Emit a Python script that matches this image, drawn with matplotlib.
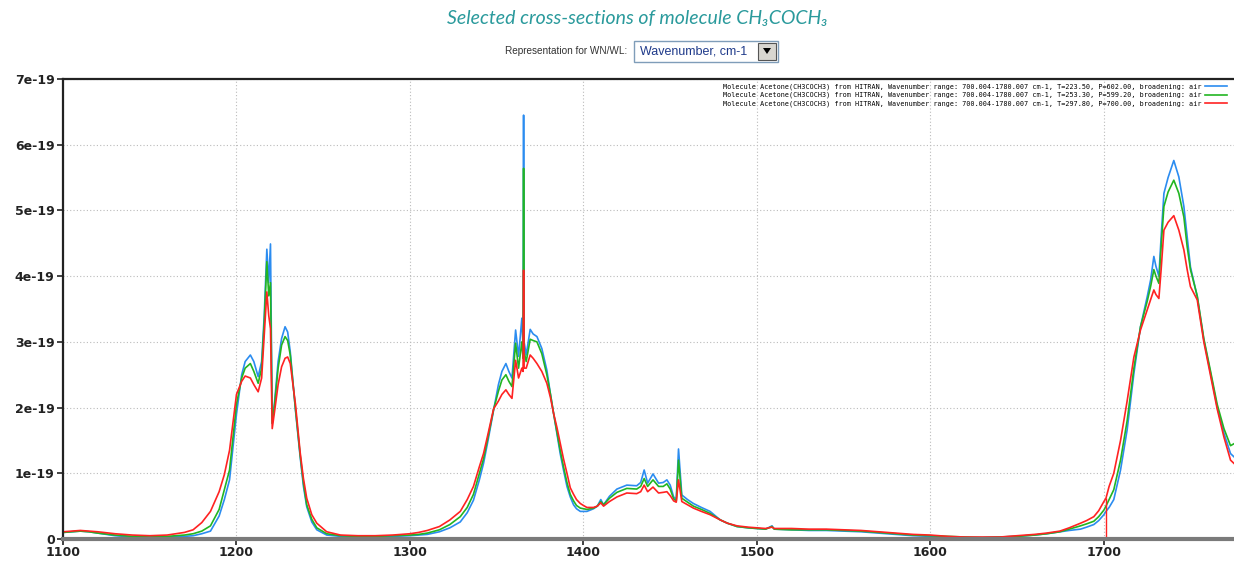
import matplotlib
matplotlib.use("Agg")
import matplotlib.pyplot as plt
from matplotlib.patches import Rectangle, Polygon

# wavenumber grid (cm-1) and cross-sections in units of 1e-19 cm2/molecule
wn = [1100, 1105, 1110, 1115, 1120, 1130, 1140, 1150, 1160, 1170, 1175, 1180, 1185,
      1190, 1193, 1196, 1200, 1203, 1205, 1208, 1210, 1212.5, 1214.5, 1216, 1217.5,
      1218.6, 1219.6, 1220.6, 1222, 1224, 1226, 1228, 1229.5, 1231, 1234, 1236.7,
      1238.6, 1240.5, 1243.4, 1246.3, 1252, 1260, 1270, 1280, 1290, 1300, 1305, 1310,
      1317, 1323, 1329, 1333, 1336.6, 1340, 1342.4, 1345, 1348.2, 1351, 1353, 1355.3,
      1357, 1358.8, 1360.9, 1362.6, 1364.5, 1365.2, 1365.5, 1365.8, 1367, 1369.3, 1371,
      1373.2, 1376, 1378.9, 1381, 1382.8, 1384.7, 1386.6, 1388.5, 1390.5, 1392.4, 1394.3,
      1396, 1398.2, 1400, 1402, 1405.8, 1408, 1410, 1411.6, 1415, 1419.3, 1425, 1430.7,
      1433, 1435, 1437, 1440.1, 1443.3, 1446, 1448.1, 1450, 1452, 1453.5, 1454.8, 1456.7,
      1460, 1463.4, 1468, 1473, 1478.9, 1483, 1488.5, 1495, 1500, 1505, 1508.7, 1510,
      1520, 1530, 1540, 1550, 1560, 1570, 1580, 1590, 1600, 1610, 1620, 1630, 1640, 1650,
      1660, 1667, 1674.6, 1680, 1686.5, 1690, 1694.2, 1697, 1700, 1701.2, 1703, 1705.7,
      1709.6, 1713.4, 1717.3, 1721.1, 1725, 1727, 1728.8, 1730, 1731.7, 1733, 1734.6,
      1737, 1740.3, 1743.2, 1746.1, 1748, 1749.9, 1753.8, 1757.6, 1761.5, 1765.3, 1769.2,
      1773, 1775]

t223 = [0.10, 0.11, 0.12, 0.11, 0.09, 0.05, 0.03, 0.03, 0.03, 0.04, 0.05, 0.08, 0.12,
        0.35, 0.60, 0.90, 1.90, 2.50, 2.70, 2.80, 2.70, 2.47, 2.70, 3.40, 4.41,
        3.90, 4.49, 1.76, 2.10, 2.70, 3.05, 3.23, 3.15, 2.85, 1.96, 1.25,
        0.80, 0.49, 0.26, 0.14, 0.06, 0.04, 0.03, 0.03, 0.04, 0.05, 0.06, 0.07,
        0.11, 0.17, 0.26, 0.40, 0.59, 0.90, 1.15, 1.50, 1.96, 2.35, 2.55, 2.67,
        2.55, 2.45, 3.18, 2.78, 3.36, 2.90, 6.45, 3.00, 2.80, 3.19, 3.12,
        3.08, 2.90, 2.57, 2.20, 1.91, 1.60, 1.30, 1.05, 0.80, 0.64, 0.52,
        0.46, 0.42, 0.42, 0.42, 0.46, 0.50, 0.60, 0.52, 0.65, 0.76, 0.82, 0.81,
        0.86, 1.05, 0.85, 0.99, 0.85, 0.86, 0.90, 0.82, 0.64, 0.60, 1.37, 0.67,
        0.60, 0.54, 0.48, 0.42, 0.29, 0.24, 0.19, 0.17, 0.16, 0.15, 0.20, 0.15,
        0.14, 0.13, 0.13, 0.12, 0.11, 0.09, 0.07, 0.05, 0.04, 0.03, 0.02, 0.02, 0.03, 0.04,
        0.06, 0.08, 0.11, 0.13, 0.15, 0.18, 0.22, 0.28, 0.37, 0.42, 0.48, 0.60,
        1.05, 1.66, 2.52, 3.23, 3.69, 3.95, 4.30, 4.15, 4.00, 4.60, 5.26,
        5.50, 5.76, 5.51, 5.06, 4.60, 4.14, 3.69, 3.03, 2.52, 2.01, 1.61,
        1.30, 1.25]

t253 = [0.10, 0.11, 0.12, 0.11, 0.09, 0.06, 0.04, 0.03, 0.04, 0.06, 0.08, 0.12, 0.20,
        0.45, 0.75, 1.05, 2.05, 2.45, 2.60, 2.67, 2.55, 2.37, 2.60, 3.30, 4.22,
        3.70, 3.90, 1.76, 2.05, 2.60, 2.95, 3.08, 3.02, 2.80, 1.98, 1.28,
        0.85, 0.52, 0.30, 0.17, 0.08, 0.05, 0.04, 0.04, 0.05, 0.06, 0.07, 0.09,
        0.14, 0.22, 0.34, 0.48, 0.68, 1.00, 1.22, 1.55, 1.97, 2.25, 2.42, 2.50,
        2.40, 2.32, 2.98, 2.60, 3.00, 2.75, 5.64, 2.85, 2.70, 3.04, 3.02,
        3.00, 2.82, 2.50, 2.20, 1.91, 1.63, 1.35, 1.10, 0.86, 0.68, 0.58,
        0.51, 0.47, 0.46, 0.45, 0.47, 0.50, 0.57, 0.52, 0.62, 0.71, 0.77, 0.76,
        0.80, 0.92, 0.80, 0.90, 0.80, 0.80, 0.84, 0.76, 0.61, 0.58, 1.20, 0.62,
        0.56, 0.50, 0.45, 0.39, 0.29, 0.24, 0.19, 0.17, 0.16, 0.15, 0.19, 0.15,
        0.14, 0.14, 0.14, 0.13, 0.12, 0.10, 0.08, 0.06, 0.05, 0.04, 0.03, 0.02, 0.03, 0.04,
        0.06, 0.08, 0.11, 0.15, 0.20, 0.23, 0.27, 0.34, 0.44, 0.50, 0.60, 0.75,
        1.20, 1.80, 2.60, 3.23, 3.62, 3.85, 4.10, 4.00, 3.89, 4.45, 5.06,
        5.28, 5.46, 5.26, 4.90, 4.45, 4.10, 3.70, 3.05, 2.55, 2.05, 1.68,
        1.42, 1.45]

t297 = [0.11, 0.12, 0.13, 0.12, 0.11, 0.08, 0.06, 0.05, 0.06, 0.10, 0.14, 0.25, 0.42,
        0.72, 0.98, 1.35, 2.20, 2.40, 2.48, 2.45, 2.35, 2.24, 2.45, 3.10, 3.76,
        3.40, 3.20, 1.68, 1.95, 2.35, 2.62, 2.75, 2.77, 2.67, 2.05, 1.32,
        0.92, 0.62, 0.37, 0.24, 0.11, 0.06, 0.05, 0.05, 0.06, 0.08, 0.10, 0.13,
        0.19, 0.29, 0.42, 0.60, 0.80, 1.10, 1.30, 1.60, 1.98, 2.10, 2.20, 2.27,
        2.20, 2.14, 2.72, 2.45, 2.60, 2.55, 4.09, 2.60, 2.60, 2.80, 2.75,
        2.67, 2.55, 2.37, 2.15, 1.91, 1.70, 1.46, 1.22, 1.00, 0.78, 0.68,
        0.60, 0.54, 0.51, 0.48, 0.48, 0.50, 0.55, 0.50, 0.57, 0.64, 0.70, 0.69,
        0.72, 0.82, 0.72, 0.79, 0.70, 0.71, 0.72, 0.66, 0.58, 0.56, 0.90, 0.57,
        0.52, 0.47, 0.42, 0.37, 0.29, 0.24, 0.20, 0.18, 0.17, 0.16, 0.18, 0.16,
        0.16, 0.15, 0.15, 0.14, 0.13, 0.11, 0.09, 0.07, 0.06, 0.04, 0.03, 0.03, 0.03, 0.05,
        0.07, 0.09, 0.12, 0.17, 0.24, 0.28, 0.34, 0.43, 0.57, 0.62, 0.80, 1.00,
        1.50, 2.10, 2.77, 3.18, 3.49, 3.65, 3.79, 3.72, 3.66, 4.10, 4.70,
        4.82, 4.92, 4.70, 4.40, 4.10, 3.84, 3.64, 3.00, 2.48, 1.98, 1.55,
        1.20, 1.15]

gap_wn = 1701.2  # red curve drops to zero here

xticks = [1100, 1200, 1300, 1400, 1500, 1600, 1700]
yticks = [0, 1e-19, 2e-19, 3e-19, 4e-19, 5e-19, 6e-19, 7e-19]
ylabels = ['0', '1e-19', '2e-19', '3e-19', '4e-19', '5e-19', '6e-19', '7e-19']

base = 'Molecule Acetone(CH3COCH3) from HITRAN, Wavenumber range: 700.004-1780.007 cm-1, '
labels = [base + 'T=223.50, P=602.00, broadening: air',
          base + 'T=253.30, P=599.20, broadening: air',
          base + 'T=297.80, P=700.00, broadening: air']
colors = ['#2b8cf0', '#22b522', '#ff2222']

fig = plt.figure(figsize=(12.34, 5.61), dpi=100)
ax = fig.add_axes([63 / 1234, 1 - 539 / 561, 1 - 63 / 1234, (539 - 79) / 561])

for vals, lab, col in zip([t223, t253, t297], labels, colors):
    ax.plot(wn, [v * 1e-19 for v in vals], color=col, lw=1.2, label=lab)

ax.vlines(gap_wn, 0, t297[wn.index(gap_wn)] * 1e-19, color=colors[2], lw=1)

ax.set_xlim(1100, 1775)
ax.set_ylim(0, 7e-19)
ax.set_xticks(xticks)
ax.set_yticks(yticks, ylabels)
ax.grid(True, color='#bbbbbb', ls=(0, (1, 2)), lw=0.8)
ax.set_axisbelow(True)

ax.spines['right'].set_visible(False)
ax.spines['top'].set_color('#222222')
ax.spines['top'].set_linewidth(1.6)
ax.spines['left'].set_color('#222222')
ax.spines['left'].set_linewidth(1.6)
ax.spines['bottom'].set_color('#7a7a7a')
ax.spines['bottom'].set_linewidth(3)
ax.tick_params(direction='out', length=4, width=1.2, color='#222222',
               labelsize=9, labelcolor='#222222', pad=2)
ax.tick_params(axis='x', pad=1)
for t in ax.get_xticklabels() + ax.get_yticklabels():
    t.set_fontweight('bold')

ax.legend(loc='upper right', frameon=False, markerfirst=False,
          prop={'family': 'DejaVu Sans Mono', 'size': 4.9},
          handlelength=3.2, handletextpad=0.5, labelspacing=0.25,
          borderaxespad=0.3, bbox_to_anchor=(0.998, 1.0))

# title and dropdown header
fig.text(637 / 1234, 1 - 18 / 561, 'Selected cross-sections of molecule CH₃COCH₃',
         ha='center', va='center', fontsize=14, style='italic',
         color='#2a9a9c', family=['Lato', 'DejaVu Sans'])
fig.text(627 / 1234, 1 - 51 / 561, 'Representation for WN/WL:', ha='right', va='center',
         fontsize=7.2, color='#333333', family='Liberation Sans')
fig.patches.append(Rectangle((634 / 1234, 1 - 62 / 561), 144 / 1234, 21 / 561,
                             transform=fig.transFigure, facecolor='white',
                             edgecolor='#7f9db9', lw=1))
fig.text(640 / 1234, 1 - 51 / 561, 'Wavenumber, cm-1', ha='left', va='center',
         fontsize=9, color='#1f3a8a', family='Liberation Sans')
fig.patches.append(Rectangle((758 / 1234, 1 - 60 / 561), 18 / 1234, 17 / 561,
                             transform=fig.transFigure, facecolor='#d8d6d0',
                             edgecolor='#555555', lw=0.8))
fig.patches.append(Polygon([(763 / 1234, 1 - 48 / 561), (771 / 1234, 1 - 48 / 561),
                            (767 / 1234, 1 - 54 / 561)], closed=True,
                           transform=fig.transFigure, facecolor='black', edgecolor='none'))

fig.savefig('out.png', dpi=100)
